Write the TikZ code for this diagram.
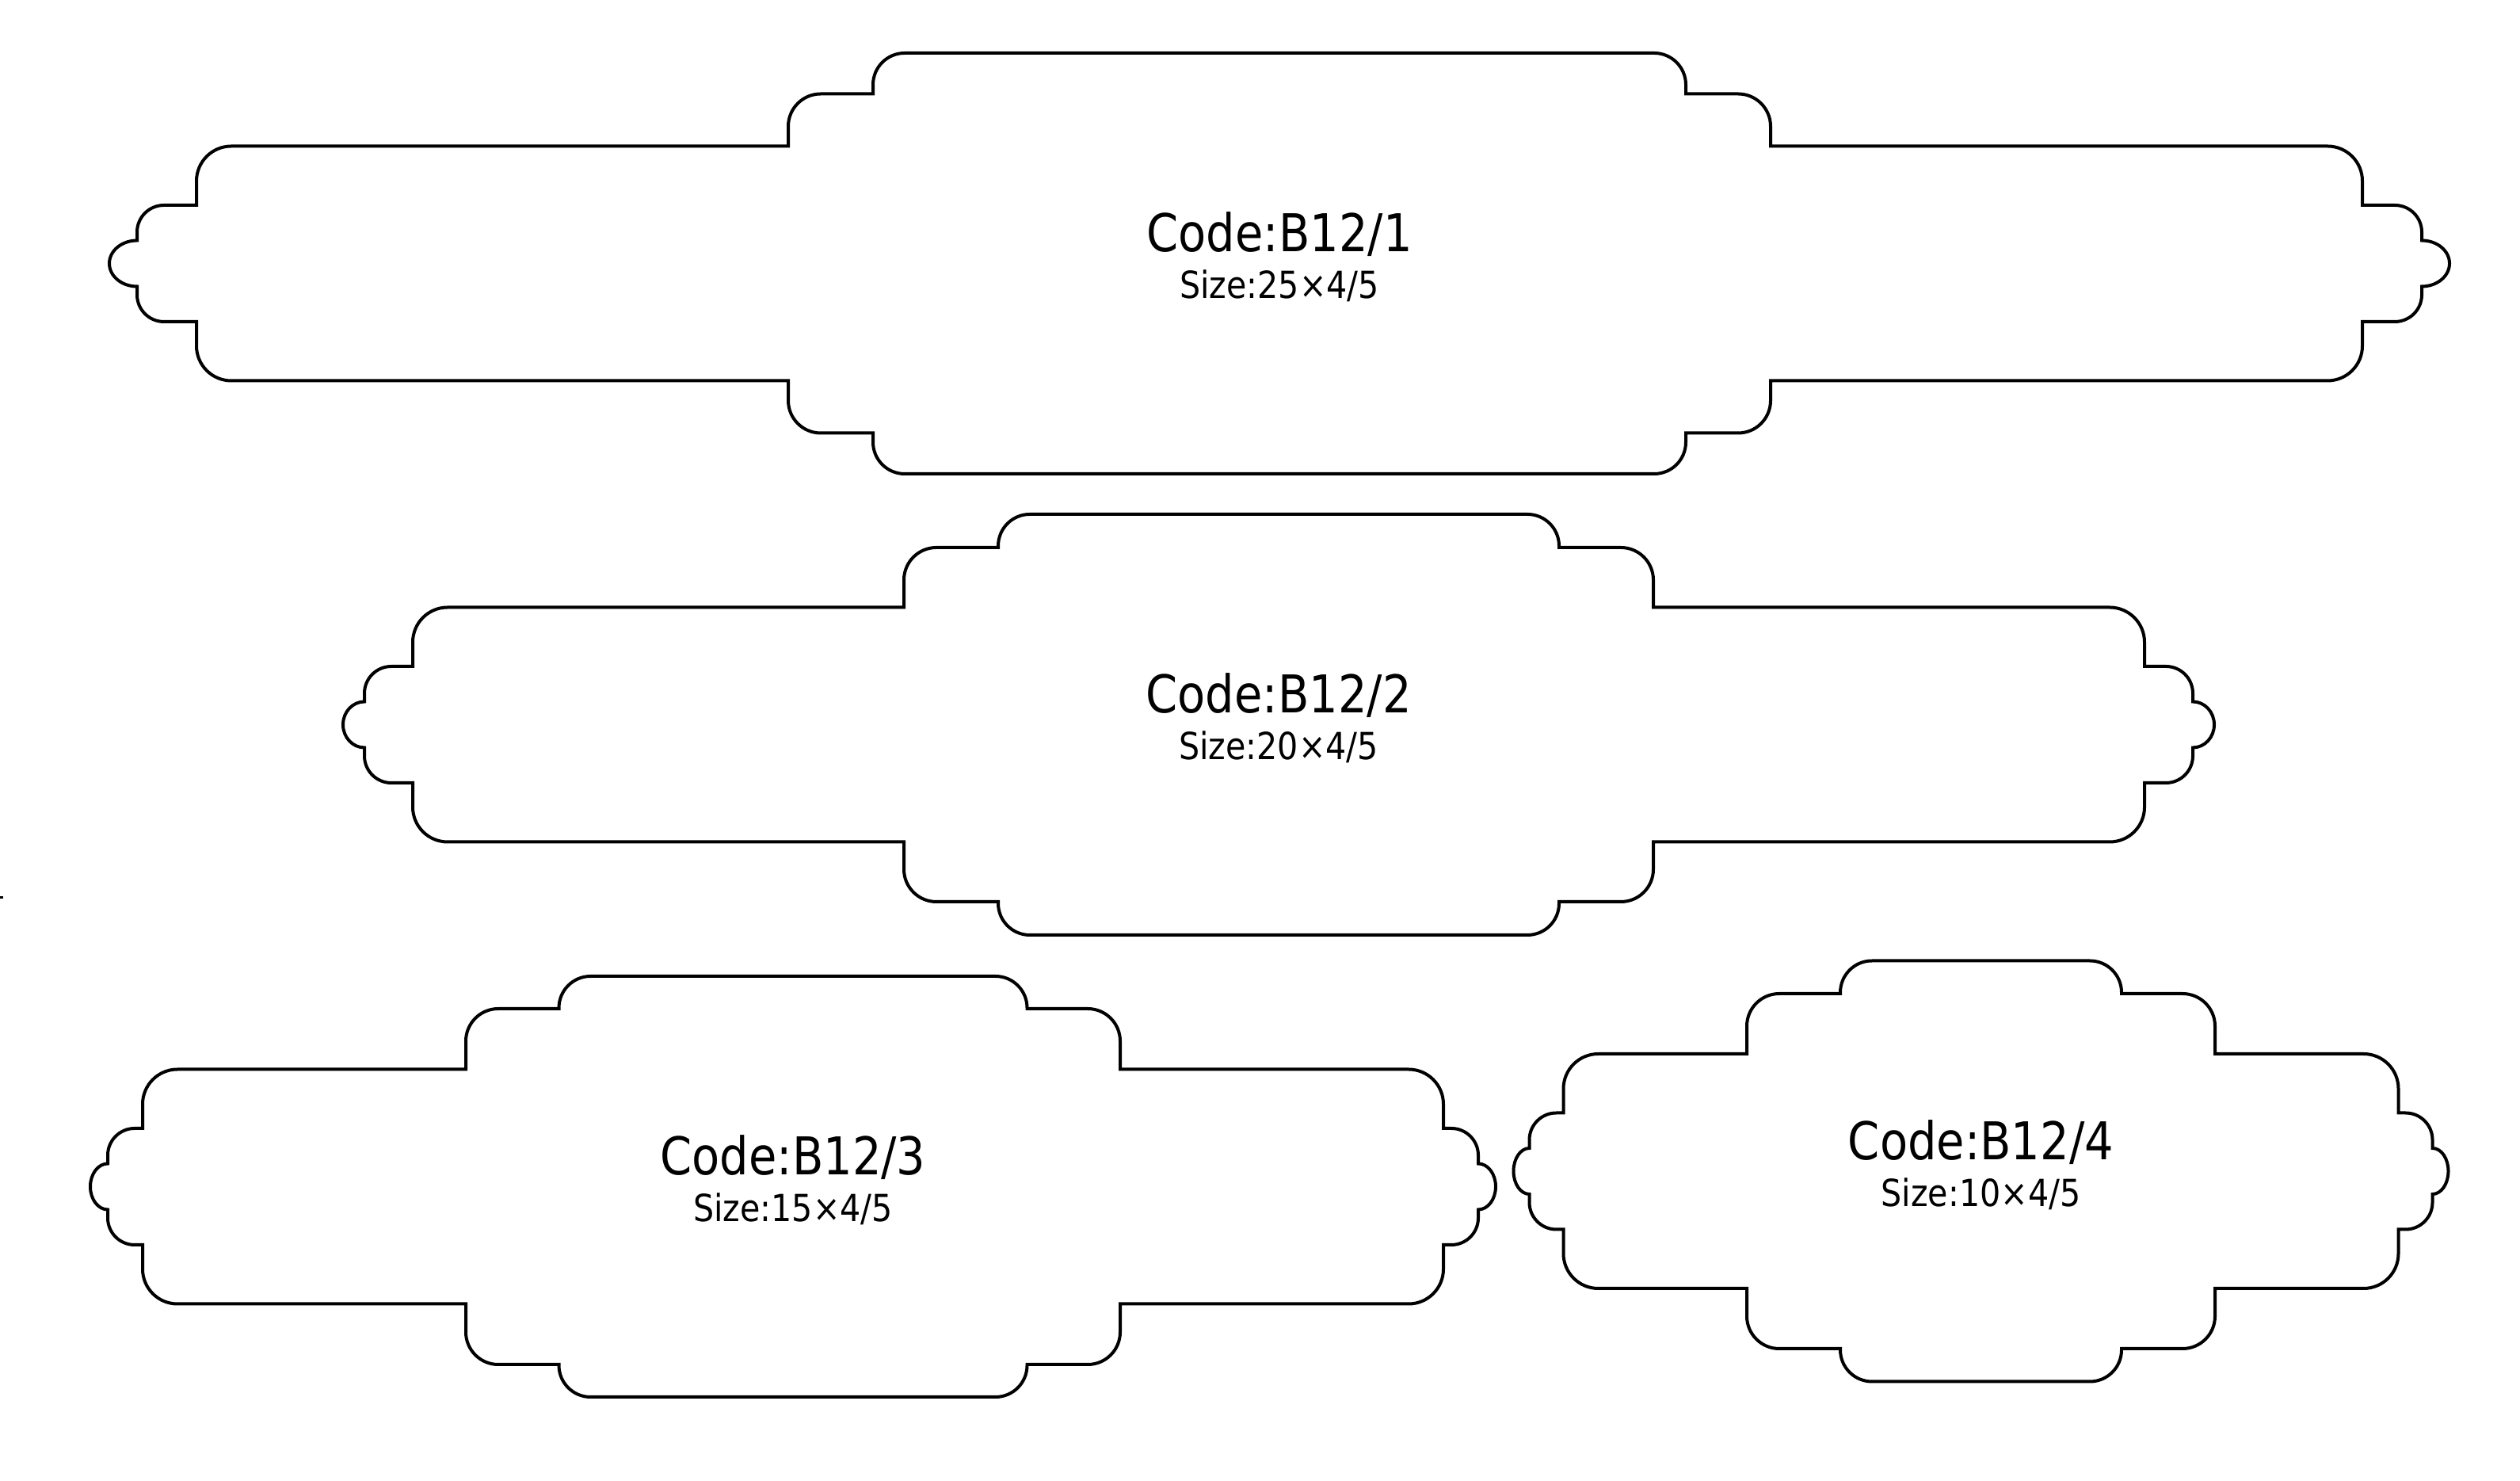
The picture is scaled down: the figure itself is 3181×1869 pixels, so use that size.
\documentclass[tikz,border=0pt]{standalone}
\usepackage{fontspec}
\usepackage{tikz}
\usetikzlibrary{positioning,calc}
\newfontfamily\lblfont{DejaVu Sans}[FakeStretch=0.875]
\tikzset{
  outline/.style  = { draw, line width=0.4mm },
  codelbl/.style  = { anchor=base, inner sep=0pt, font=\lblfont\fontsize{18.7}{20}\selectfont },
  sizelbl/.style  = { anchor=base, inner sep=0pt, font=\lblfont\fontsize{13.4}{15}\selectfont }
}
% plaque: centre x, centre y, central, shoulder, shoulder height, band, step, bump
\newcommand{\plaque}[8]{%
  \begin{scope}[shift={(#1,#2)}]
    \draw[outline]
      (-#3+40,265.5) -- (#3-40,265.5) arc[start angle=90,end angle=0,radius=40]
      -- (#3,#5) -- (#4-41,#5) arc[start angle=90,end angle=0,radius=41]
      -- (#4,148) -- (#6-44,148) arc[start angle=90,end angle=0,radius=44]
      -- (#6,73.5) -- (#7-34,73.5) arc[start angle=90,end angle=0,radius=34]
      -- (#7,29) arc[start angle=90,end angle=-90,x radius=#8-#7,y radius=29]
      -- (#7,-39.5) arc[start angle=0,end angle=-90,radius=34]
      -- (#6,-73.5) -- (#6,-104) arc[start angle=0,end angle=-90,radius=44]
      -- (#4,-148) -- (#4,-#5+41) arc[start angle=0,end angle=-90,radius=41]
      -- (#3,-#5) -- (#3,-225.5) arc[start angle=0,end angle=-90,radius=40]
      -- (-#3+40,-265.5) arc[start angle=-90,end angle=-180,radius=40]
      -- (-#3,-#5) -- (-#4+41,-#5) arc[start angle=-90,end angle=-180,radius=41]
      -- (-#4,-148) -- (-#6+44,-148) arc[start angle=-90,end angle=-180,radius=44]
      -- (-#6,-73.5) -- (-#7+34,-73.5) arc[start angle=-90,end angle=-180,radius=34]
      -- (-#7,-29) arc[start angle=-90,end angle=-270,x radius=#8-#7,y radius=29]
      -- (-#7,39.5) arc[start angle=180,end angle=90,radius=34]
      -- (-#6,73.5) -- (-#6,104) arc[start angle=180,end angle=90,radius=44]
      -- (-#4,148) -- (-#4,#5-41) arc[start angle=180,end angle=90,radius=41]
      -- (-#3,#5) -- (-#3,225.5) arc[start angle=180,end angle=90,radius=40]
      -- cycle;
  \end{scope}}

\begin{document}
\begin{tikzpicture}[x=0.1mm,y=0.1mm]
  \useasboundingbox (0,0) rectangle (3181,1869);
  % four plaques, biggest on top
  \plaque{1615}{1536.5}{513}{620}{214}{1367}{1442}{1477}
  \plaque{1614}{954.5}{354}{473}{223.5}{1093}{1154}{1181}
  \plaque{1001}{371.5}{295.5}{413}{224.5}{821}{865}{887}
  \plaque{2500.5}{391}{177.5}{295.5}{224}{527}{570}{590}

  \node[codelbl] (code1) at (1615,1551) {Code:B12/1};
  \node[sizelbl] (size1) at (1615,1492) {Size:25×4/5};
  \node[codelbl] (code2) at (1614,969) {Code:B12/2};
  \node[sizelbl] (size2) at (1614,910) {Size:20×4/5};
  \node[codelbl] (code3) at (1001,386) {Code:B12/3};
  \node[sizelbl] (size3) at (1001,327) {Size:15×4/5};
  \node[codelbl] (code4) at (2500.5,405.5) {Code:B12/4};
  \node[sizelbl] (size4) at (2500.5,346.5) {Size:10×4/5};

  \fill (0.5,734.5) rectangle (3.5,737.5);
\end{tikzpicture}
\end{document}
